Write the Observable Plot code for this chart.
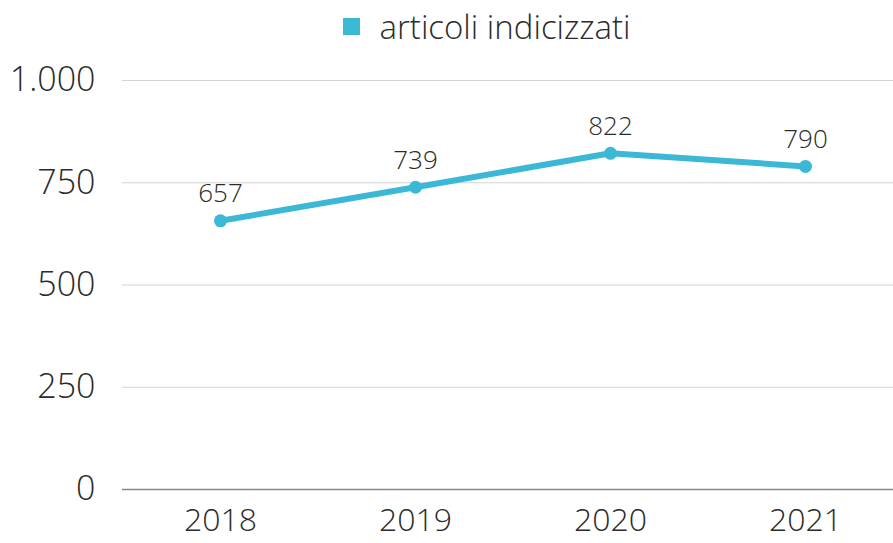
<!DOCTYPE html>
<html>
<head>
<meta charset="utf-8">
<script src="https://cdn.jsdelivr.net/npm/d3@7"></script>
<script src="https://cdn.jsdelivr.net/npm/@observablehq/plot@0.6"></script>
<style>
  html, body { margin: 0; padding: 0; background: #fff; }
  body { width: 893px; height: 543px; overflow: hidden; font-family: "Open Sans", sans-serif; font-weight: 300; }
  #legend { height: 52px; display: flex; align-items: center; justify-content: center; font-size: 33px; color: #2b2b2b; padding-left: 80px; box-sizing: border-box; }
  #legend .sw { width: 17px; height: 17px; background: #3bb8d6; margin-right: 20px; }
  svg { display: block; }
</style>
</head>
<body>
<div id="legend"><span class="sw"></span><span>articoli indicizzati</span></div>
<div id="chart"></div>
<script>
const years = ["2018", "2019", "2020", "2021"];
const articoli = [657, 739, 822, 790];
const yTicks = [0, 250, 500, 750, 1000];

const data = years.map((y, i) => ({year: y, value: articoli[i]}));
const it = d3.formatLocale({decimal: ",", thousands: ".", grouping: [3], currency: ["€", ""]});
const fmt = it.format(",");
const color = "#3bb8d6";

const chart = Plot.plot({
  width: 893,
  height: 491,
  marginTop: 28,
  marginBottom: 54,
  marginLeft: 122,
  marginRight: -10,
  style: {fontFamily: "'Open Sans', sans-serif", fontWeight: 300, color: "#2b2b2b", background: "#fff", overflow: "hidden"},
  x: {type: "point", domain: years, padding: 0.5},
  y: {domain: [0, 1000]},
  marks: [
    Plot.gridY(yTicks, {stroke: "#d4d4d4", strokeOpacity: 1, strokeWidth: 1.2}),
    Plot.ruleY([0], {stroke: "#888", strokeWidth: 1.5}),
    Plot.axisY(yTicks, {tickSize: 0, tickPadding: 27, fontSize: 34, tickFormat: fmt, label: null, fill: "#2b2b2b"}),
    Plot.axisX({tickSize: 0, tickPadding: 19, fontSize: 32, label: null, fill: "#2b2b2b"}),
    Plot.line(data, {x: "year", y: "value", stroke: color, strokeWidth: 6}),
    Plot.dot(data, {x: "year", y: "value", fill: color, r: 6.5}),
    Plot.text(data, {x: "year", y: "value", text: d => fmt(d.value), dy: -27, fontSize: 26, fill: "#2b2b2b"})
  ]
});
document.getElementById("chart").appendChild(chart);
</script>
</body>
</html>
